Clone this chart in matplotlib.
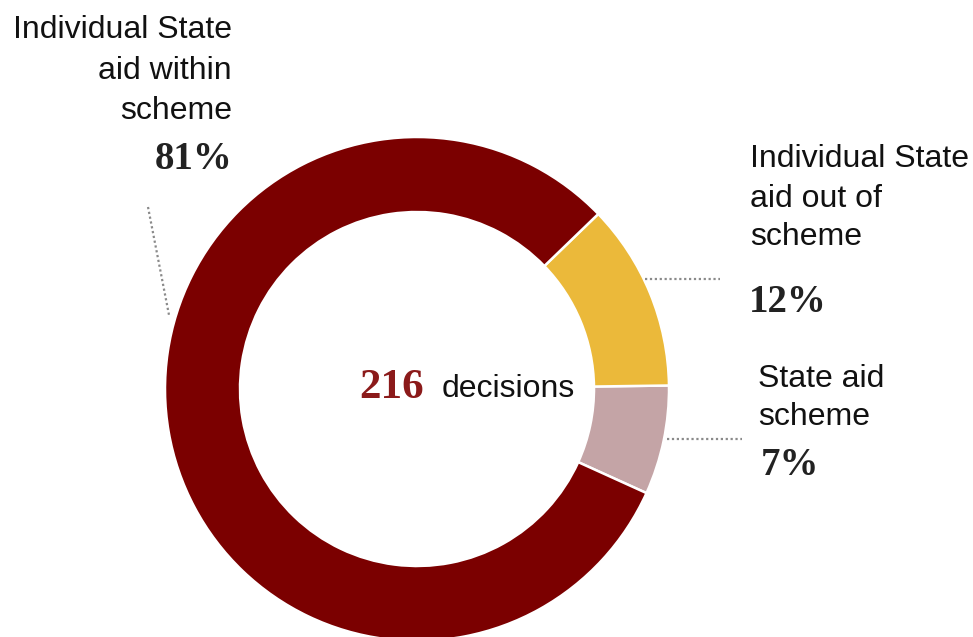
import matplotlib.pyplot as plt

# Data
categories = ["State aid scheme", "Individual State aid out of scheme", "Individual State aid within scheme"]
shares = [7, 12, 81]
colors = ["#c4a4a6", "#ebb93a", "#7b0000"]
total_decisions = 216

# Figure is laid out in pixel units (y measured from the top)
W, H = 973, 637

def Y(y):
    return H - y

fig = plt.figure(figsize=(W / 100, H / 100), dpi=100)
ax = fig.add_axes([0, 0, 1, 1])

# Donut
ax.pie(shares, colors=colors, startangle=-24.4, counterclock=True,
       center=(417, Y(389)), radius=252,
       wedgeprops=dict(width=75, edgecolor="white", linewidth=1.8))

ax.set_xlim(0, W)
ax.set_ylim(0, H)
ax.set_aspect("equal")
ax.axis("off")

sans = "Liberation Sans"
serif = "Liberation Serif"
lbl_size = 23
pct_size = 28

# Left label (81%)
for txt, yb in zip(["Individual State", "aid within", "scheme"], [38, 79, 119]):
    ax.text(232, Y(yb), txt, ha="right", va="baseline", fontsize=lbl_size, family=sans, color="#111111")
ax.text(233, Y(169), "81%", ha="right", va="baseline", fontsize=pct_size, family=serif,
        fontweight="bold", color="#222222")
ax.plot([148, 169], [Y(207), Y(315)], linestyle=(0, (1, 1.2)), color="#8a8a8a", linewidth=1.6)

# Right label (12%)
for txt, yb in zip(["Individual State", "aid out of", "scheme"], [167, 207, 245]):
    ax.text(750, Y(yb), txt, ha="left", va="baseline", fontsize=lbl_size, family=sans, color="#111111")
ax.text(749, Y(312), "12%", ha="left", va="baseline", fontsize=pct_size, family=serif,
        fontweight="bold", color="#222222")
ax.plot([645, 720], [Y(279), Y(279)], linestyle=(0, (1, 1.2)), color="#8a8a8a", linewidth=1.6)

# Right label (7%)
for txt, yb in zip(["State aid", "scheme"], [387, 425]):
    ax.text(758, Y(yb), txt, ha="left", va="baseline", fontsize=lbl_size, family=sans, color="#111111")
ax.text(761, Y(475), "7%", ha="left", va="baseline", fontsize=pct_size, family=serif,
        fontweight="bold", color="#222222")
ax.plot([667, 742], [Y(439), Y(439)], linestyle=(0, (1, 1.2)), color="#8a8a8a", linewidth=1.6)

# Centre text
ax.text(359, Y(398), str(total_decisions), ha="left", va="baseline", fontsize=31, family=serif,
        fontweight="bold", color="#8b1a1a")
ax.text(442, Y(397), "decisions", ha="left", va="baseline", fontsize=lbl_size, family=sans, color="#111111")

plt.savefig("out.png", dpi=100)
